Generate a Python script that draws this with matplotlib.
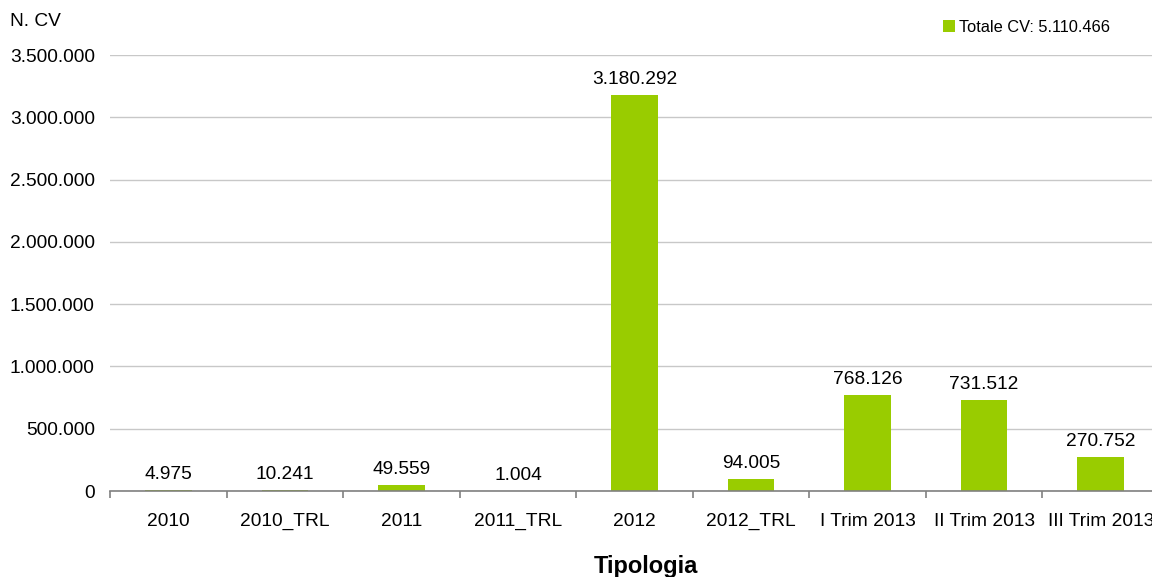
import matplotlib
matplotlib.use("Agg")
import matplotlib.pyplot as plt
from matplotlib.ticker import FuncFormatter, MultipleLocator
from matplotlib.patches import Patch

plt.rcParams['font.family'] = ['Liberation Sans', 'DejaVu Sans']

categories = ["2010", "2010_TRL", "2011", "2011_TRL", "2012", "2012_TRL",
              "I Trim 2013", "II Trim 2013", "III Trim 2013"]
values = [4975, 10241, 49559, 1004, 3180292, 94005, 768126, 731512, 270752]
total_label = "Totale CV: 5.110.466"

BAR = "#99CC00"


def it_fmt(v):
    return f"{int(round(v)):,}".replace(",", ".")


fig = plt.figure(figsize=(11.52, 5.77), dpi=100)
W, H = 1152, 577
ax = fig.add_axes([110 / W, 1 - 491 / H, 1049 / W, (491 - 55) / H])

x = list(range(len(categories)))
ax.bar(x, values, width=0.40, color=BAR, zorder=2)

for xi, v in zip(x, values):
    ax.annotate(it_fmt(v), (xi, v), xytext=(0, 5), textcoords="offset points",
                ha="center", va="bottom", fontsize=13.8, color="#000000")

ax.set_xlim(-0.5, len(categories) - 0.5)
ax.set_ylim(0, 3500000)
ax.yaxis.set_major_locator(MultipleLocator(500000))
ax.yaxis.set_major_formatter(FuncFormatter(lambda v, p: it_fmt(v)))
ax.grid(axis="y", color="#c8c8c8", linewidth=1, zorder=0)
ax.set_axisbelow(True)

for s in ["top", "right", "left"]:
    ax.spines[s].set_visible(False)
ax.spines["bottom"].set_color("#808080")
ax.spines["bottom"].set_linewidth(1.2)
ax.spines["bottom"].set_zorder(3)

ax.set_xticks(x)
ax.set_xticklabels(categories)
ax.set_xticks([i - 0.5 for i in range(len(categories) + 1)], minor=True)
ax.tick_params(axis="x", which="major", length=0, pad=16, labelsize=13.8)
ax.tick_params(axis="x", which="minor", length=5, width=1.2, color="#808080")
ax.tick_params(axis="y", length=0, pad=11, labelsize=13.8)

fig.text(10 / W, 1 - 22 / H, "N. CV", ha="left", va="center", fontsize=13.8)
fig.text(646 / W, 1 - 566 / H, "Tipologia", ha="center", va="center",
         fontsize=17, fontweight="bold")

fig.legend(handles=[Patch(facecolor=BAR, edgecolor="none")], labels=[total_label],
           loc="center left", bbox_to_anchor=(943 / W, 1 - 27 / H),
           frameon=False, fontsize=11.8, handlelength=0.75, handleheight=0.75,
           handletextpad=0.25, borderpad=0, borderaxespad=0)

fig.savefig("out.png", dpi=100)
